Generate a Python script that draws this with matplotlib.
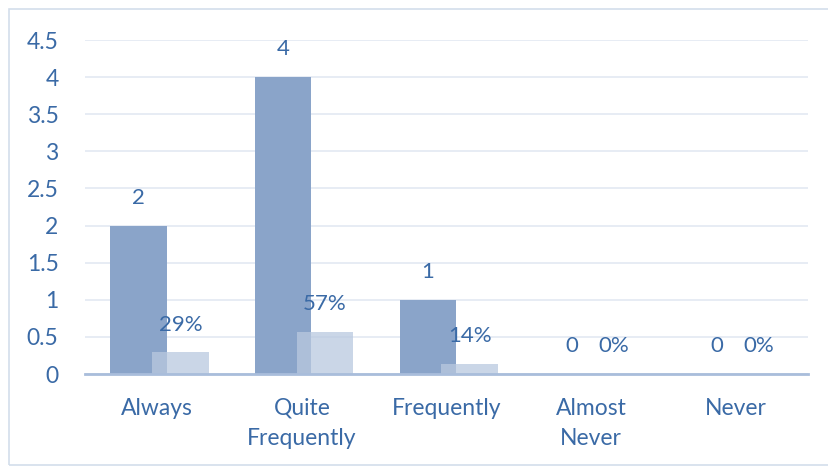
import matplotlib.pyplot as plt
from matplotlib.patches import Rectangle
import numpy as np

categories = ["Always", "Quite\nFrequently", "Frequently", "Almost\nNever", "Never"]
counts = [2, 4, 1, 0, 0]
shares = [0.29, 0.57, 0.14, 0.0, 0.0]
share_labels = ["29%", "57%", "14%", "0%", "0%"]
yticks = [0, 0.5, 1, 1.5, 2, 2.5, 3, 3.5, 4, 4.5]

plt.rcParams['font.family'] = ['Lato', 'DejaVu Sans']
text_color = "#3a6aa6"
dark = "#8aa4c9"
light = "#b9c9df"

W, H = 829, 469
fig = plt.figure(figsize=(W / 100, H / 100), dpi=100)
fig.patch.set_facecolor("white")

# outer chart frame
fig.patches.append(Rectangle((9 / W, 4 / H), 1.0, (460 - 4) / H, transform=fig.transFigure,
                             fill=False, edgecolor="#d3deeb", linewidth=1.2))

ax = fig.add_axes([85 / W, (H - 374) / H, (808 - 85) / W, (374 - 40) / H])
ax.set_ylim(0, 4.5)
ax.set_xlim(-0.5, len(categories) - 0.5)

x = np.arange(len(categories))
bw = 0.39
dark_off = -0.13
light_off = 0.16

ax.bar(x + dark_off, counts, width=bw, color=dark, zorder=2)
ax.bar(x + light_off, shares, width=bw, color=light, alpha=0.75, zorder=3)

for xi, c in zip(x, counts):
    ax.annotate(str(c), (xi + dark_off, c), xytext=(0, 20), textcoords="offset points",
                ha="center", va="center", color=text_color, fontsize=16)
for xi, s, lab in zip(x, shares, share_labels):
    ax.annotate(lab, (xi + light_off, s), xytext=(0, 20), textcoords="offset points",
                ha="center", va="center", color=text_color, fontsize=16)

ax.set_yticks(yticks)
ax.set_yticklabels([f"{t:g}" for t in yticks])
ax.yaxis.grid(True, color="#e3e9f2", linewidth=1.2, zorder=0)
ax.set_axisbelow(True)
ax.set_xticks(x)
ax.set_xticklabels(categories, linespacing=1.55)
ax.tick_params(axis="both", length=0, labelcolor=text_color, labelsize=16.5)
ax.tick_params(axis="y", pad=19)
ax.tick_params(axis="x", pad=17)
for side in ["top", "right", "left"]:
    ax.spines[side].set_visible(False)
ax.spines["bottom"].set_color("#a9bddb")
ax.spines["bottom"].set_linewidth(2)
ax.spines["bottom"].set_zorder(4)

fig.savefig("out.png", dpi=100, facecolor="white")
